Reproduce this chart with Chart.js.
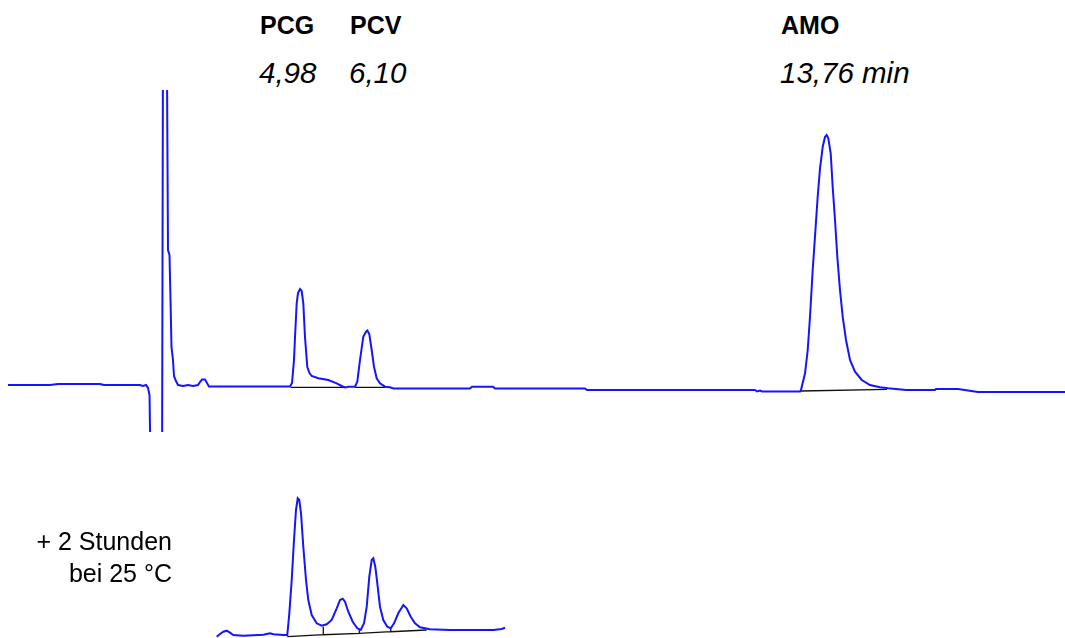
<!DOCTYPE html>
<html>
<head>
<meta charset="utf-8">
<script src="https://cdn.jsdelivr.net/npm/chart.js@4/dist/chart.umd.min.js"></script>
<style>
  html, body { margin: 0; padding: 0; background: #ffffff; }
  body { width: 1065px; height: 638px; position: relative; overflow: hidden; font-family: "Liberation Sans", Arial, sans-serif; color: #000; }
  .box { position: absolute; }
  .lbl { position: absolute; line-height: 1; white-space: nowrap; }
  .b { font-weight: bold; font-size: 25px; }
  .i { font-style: italic; font-size: 29.5px; }
  .r { font-size: 25px; text-align: right; }
</style>
</head>
<body>
<div class="box" style="left:0;top:90px;width:1065px;height:342px;"><canvas id="top"></canvas></div>
<div class="box" style="left:0;top:480px;width:1065px;height:158px;"><canvas id="bottom"></canvas></div>

<div class="lbl b" style="left:260px;top:13px;">PCG</div>
<div class="lbl b" style="left:350px;top:13px;">PCV</div>
<div class="lbl b" style="left:781px;top:13px;">AMO</div>
<div class="lbl i" style="left:259px;top:58px;">4,98</div>
<div class="lbl i" style="left:349px;top:58px;">6,10</div>
<div class="lbl i" style="left:780px;top:58px;">13,76 min</div>
<div class="lbl r" style="right:893px;top:529px;">+ 2 Stunden</div>
<div class="lbl r" style="right:893px;top:561px;">bei 25 °C</div>

<script>
// ---- Data (time in min, signal in arbitrary detector units) ----
const peakNames = ["PCG", "PCV", "AMO"];
const retentionLabels = ["4,98", "6,10", "13,76 min"];

// Reference chromatogram (t = 0)
const topTime = [0.113,0.813,0.947,1.647,1.713,2.313,2.363,2.413,2.447,2.472,2.497,2.680,2.705,2.738,2.780,2.805,2.822,2.838,2.863,2.880,2.913,2.947,3.030,3.113,3.197,3.280,3.313,3.347,3.397,3.430,3.463,4.813,
  4.847,4.880,4.897,4.925,4.947,4.980,5.008,5.035,5.063,5.102,5.138,5.175,5.285,5.452,5.592,5.675,5.730,5.785,5.897,
  5.935,5.980,6.035,6.080,6.102,6.135,6.175,6.213,6.258,6.313,6.397,6.480,6.535,7.813,7.847,8.197,8.230,9.730,9.763,12.563,12.597,12.647,12.680,13.313,
  13.330,13.397,13.442,13.480,13.525,13.563,13.608,13.647,13.692,13.730,13.758,13.785,13.825,13.858,13.897,13.935,13.980,14.025,14.080,14.147,14.230,14.342,14.480,14.647,14.785,15.080,15.563,15.580,15.947,16.280,17.730];
const topSignal = [2,2,3,3,2,2,1,2,-1,-8,-113,-113,587,587,137,132,87,40,27,11,6,2,1,2,1,2,5,7.5,7.5,4,0.5,0.5,
  4,27,50,84,94,98,96,84,50,20,14,11,8.7,7,3.7,1,-0.5,0.3,0.3,
  5.3,27,50.3,55.3,56.5,53,37,20.3,8.7,3.7,0.3,-0.3,-1.5,-1.5,0.3,0.3,-1.5,-1.5,-3,-3,-4.5,-3.5,-4.5,-4.5,
  -3,13.7,37,70.3,117,150.3,190.3,218.7,240.3,250,252,248.7,233.7,200.3,167,130.3,97,70.3,47,27,15.3,7,2,-0.3,-1.3,-3,-3,-2,-2,-5,-5];

// Integration baselines (reference run)
const topBaseTime = [4.825, 5.730, null, 5.897, 6.397, null, 13.330, 14.763];
const topBaseSignal = [-0.3, -0.3, null, -0.3, -0.3, null, -4, -2.3];

// After 2 h at 25 °C
const botTime = [3.592,3.647,3.702,3.758,3.813,3.868,4.035,4.202,4.368,4.480,4.535,4.702,4.768,4.802,4.842,4.880,4.913,4.942,4.968,4.997,5.035,5.080,5.118,5.175,5.258,5.342,5.425,5.508,5.592,5.647,5.692,5.730,5.785,5.858,5.935,5.992,6.047,6.092,6.135,6.175,6.202,6.235,6.275,6.313,6.368,6.435,6.492,6.547,6.618,6.702,6.758,6.825,6.897,6.980,7.147,7.480,7.868,8.202,8.342,8.397];
const botSignal = [-0.7,2,4.3,5.3,3.3,1,0.3,0.7,1.3,2.7,1.7,1,1,22.7,56,96,126,137.7,136,122.7,89.3,56,36,21,12.7,10.3,11.7,16,27.7,36,37.3,34.3,24.3,14.3,7.7,6,12.7,29.3,59.3,76,77.7,69.3,49.3,29.3,16,9.3,7.7,12.7,22.7,31,27.7,19.3,12.7,8.7,6.7,6,6,6,7,8.3];

const botBaseTime = [4.768, 5.368, 5.368, 5.368, 5.968, 5.968, 5.968, 6.492, 6.492, 6.492, 7.092];
const botBaseSignal = [-0.7, 1.3, 9.3, 1.3, 2.7, 6.7, 2.7, 4.3, 7.7, 4.3, 6];

// ---- Build charts ----
const BLUE = "rgb(20,20,255)";
function pts(tx, ty) { return tx.map((t, i) => (t === null ? {x: null, y: null} : {x: t, y: ty[i]})); }

function makeChart(id, trace, base, yMin, yMax) {
  return new Chart(document.getElementById(id), {
    type: "line",
    data: {
      datasets: [
        { data: trace, borderColor: BLUE, borderWidth: 2, pointRadius: 0, tension: 0, order: 1, spanGaps: false },
        { data: base, borderColor: "#111", borderWidth: 1.3, pointRadius: 0, tension: 0, order: 2, spanGaps: false }
      ]
    },
    options: {
      responsive: true,
      maintainAspectRatio: false,
      animation: false,
      events: [],
      layout: { padding: 0 },
      plugins: { legend: { display: false }, tooltip: { enabled: false } },
      scales: {
        x: { type: "linear", min: -0.02, max: 17.73, display: false },
        y: { type: "linear", min: yMin, max: yMax, display: false }
      }
    }
  });
}

makeChart("top", pts(topTime, topSignal), pts(topBaseTime, topBaseSignal), -45, 297);
makeChart("bottom", pts(botTime, botSignal), pts(botBaseTime, botBaseSignal), -2, 156);
</script>
</body>
</html>
